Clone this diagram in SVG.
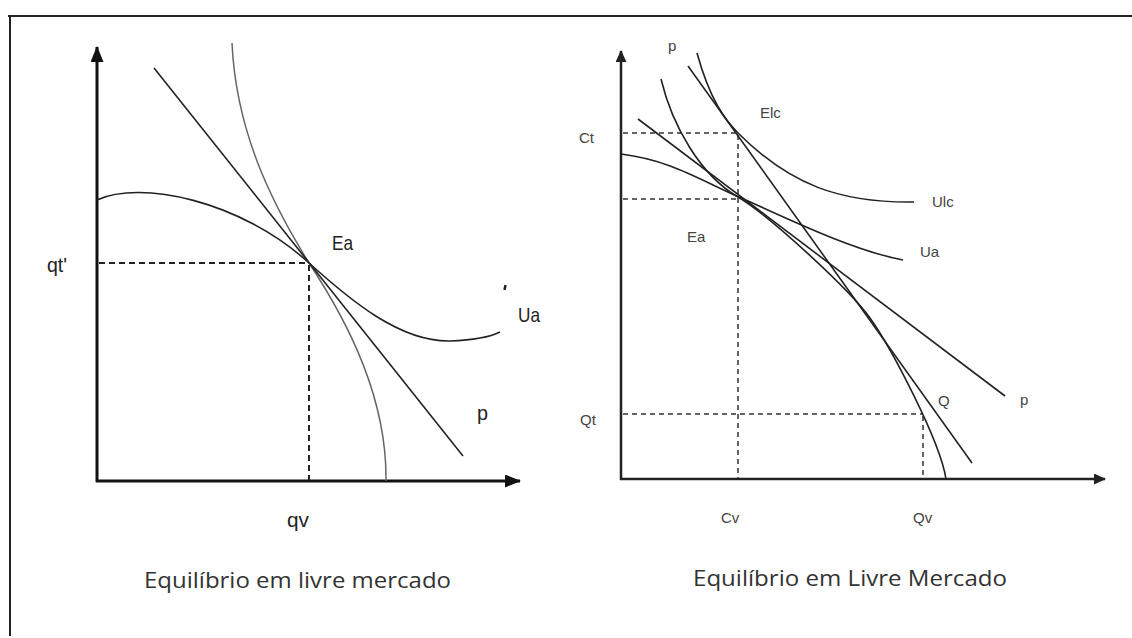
<svg xmlns="http://www.w3.org/2000/svg" width="1132" height="638" viewBox="0 0 1132 638">
  <style>
    .frame { stroke: #222; stroke-width: 2; fill: none; }
    .axisL { stroke: #111; stroke-width: 3; fill: none; }
    .axisR { stroke: #222; stroke-width: 2.5; fill: none; }
    .curve { stroke: #222; stroke-width: 1.6; fill: none; }
    .curveGray { stroke: #666; stroke-width: 1.5; fill: none; }
    .dashL { stroke: #222; stroke-width: 2; stroke-dasharray: 6 4; fill: none; }
    .dashR { stroke: #333; stroke-width: 1.5; stroke-dasharray: 5 4; fill: none; }
    .lblL { font-family: "Liberation Sans", Arial, sans-serif; font-size: 21px; fill: #222; }
    .lblR { font-family: "Liberation Sans", Arial, sans-serif; font-size: 15px; fill: #444; }
    .title { font-family: "Open Sans", "Liberation Sans", sans-serif; font-size: 22.5px; fill: #333; }
  </style>
  <defs>
    <marker id="arrL" markerUnits="userSpaceOnUse" markerWidth="16" markerHeight="13" refX="15" refY="6.5" orient="auto">
      <path d="M0,0 L16,6.5 L0,13 Z" fill="#111"/>
    </marker>
    <marker id="arrR" markerUnits="userSpaceOnUse" markerWidth="12" markerHeight="11" refX="11" refY="5.5" orient="auto">
      <path d="M0,0 L12,5.5 L0,11 Z" fill="#222"/>
    </marker>
  </defs>
  <rect width="1132" height="638" fill="#ffffff"/>

  <g id="frame">
    <line class="frame" x1="8" y1="16" x2="1132" y2="16"/>
    <line class="frame" x1="10" y1="16" x2="10" y2="636"/>
  </g>

  <g id="left-chart">
    <g id="left-axes">
      <line class="axisL" x1="97" y1="482" x2="97" y2="47" marker-end="url(#arrL)"/>
      <line class="axisL" x1="96" y1="481" x2="520" y2="481" marker-end="url(#arrL)"/>
    </g>
    <g id="left-guides">
      <line class="dashL" x1="99" y1="263" x2="309" y2="263"/>
      <line class="dashL" x1="309" y1="265" x2="309" y2="480"/>
    </g>
    <g id="left-curves">
      <path id="left-Ua" class="curve" d="M97,200 C140,180 240,200 309,263 C350,300 400,342 450,341 C475,340 490,337 500,332"/>
      <path id="left-frontier" class="curveGray" d="M232,43 C236,130 270,200 309,263 C350,325 387,400 386,481"/>
      <line id="left-p" class="curve" x1="154" y1="68" x2="463" y2="456"/>
      <line id="left-mark" x1="505.5" y1="285" x2="504.5" y2="290" stroke="#222" stroke-width="2.5"/>
    </g>
    <g id="left-labels">
      <text class="lblL" x="47" y="272" textLength="20" lengthAdjust="spacingAndGlyphs">qt'</text>
      <text class="lblL" x="332" y="250" textLength="21" lengthAdjust="spacingAndGlyphs">Ea</text>
      <text class="lblL" x="518" y="322" textLength="22" lengthAdjust="spacingAndGlyphs">Ua</text>
      <text class="lblL" x="477" y="420" textLength="11" lengthAdjust="spacingAndGlyphs">p</text>
      <text class="lblL" x="287" y="527" textLength="22" lengthAdjust="spacingAndGlyphs">qv</text>
      <text class="title" x="144" y="588" textLength="307" lengthAdjust="spacingAndGlyphs">Equilíbrio em livre mercado</text>
    </g>
  </g>

  <g id="right-chart">
    <g id="right-axes">
      <line class="axisR" x1="621" y1="480" x2="621" y2="51" marker-end="url(#arrR)"/>
      <line class="axisR" x1="620" y1="479" x2="1105" y2="479" marker-end="url(#arrR)"/>
    </g>
    <g id="right-guides">
      <line class="dashR" x1="623" y1="133" x2="737" y2="133"/>
      <line class="dashR" x1="623" y1="199" x2="737" y2="199"/>
      <line class="dashR" x1="738" y1="135" x2="738" y2="478"/>
      <line class="dashR" x1="623" y1="414" x2="923" y2="414"/>
      <line class="dashR" x1="923" y1="416" x2="923" y2="478"/>
    </g>
    <g id="right-curves">
      <path id="right-Ulc" class="curve" d="M697,53 C710,100 725,120 738,133 C790,185 840,203 914,202"/>
      <path id="right-Ua" class="curve" d="M621,154 C670,160 700,180 739,197 C778,214 850,250 903,260"/>
      <path id="right-Q" class="curve" d="M661,79 C672,125 700,175 738,197 C770,216 850,290 870,318 C890,346 940,440 946,479"/>
      <line id="right-p-low" class="curve" x1="638" y1="119" x2="1005" y2="396"/>
      <line id="right-p-steep" class="curve" x1="688" y1="66" x2="972" y2="463"/>
    </g>
    <g id="right-labels">
      <text class="lblR" x="668" y="51">p</text>
      <text class="lblR" x="760" y="118">Elc</text>
      <text class="lblR" x="579" y="143">Ct</text>
      <text class="lblR" x="932" y="207">Ulc</text>
      <text class="lblR" x="687" y="242">Ea</text>
      <text class="lblR" x="920" y="257">Ua</text>
      <text class="lblR" x="938" y="406">Q</text>
      <text class="lblR" x="1020" y="405">p</text>
      <text class="lblR" x="580" y="425">Qt</text>
      <text class="lblR" x="721" y="523">Cv</text>
      <text class="lblR" x="913" y="523">Qv</text>
      <text class="title" x="693" y="586" textLength="314" lengthAdjust="spacingAndGlyphs">Equilíbrio em Livre Mercado</text>
    </g>
  </g>
</svg>
